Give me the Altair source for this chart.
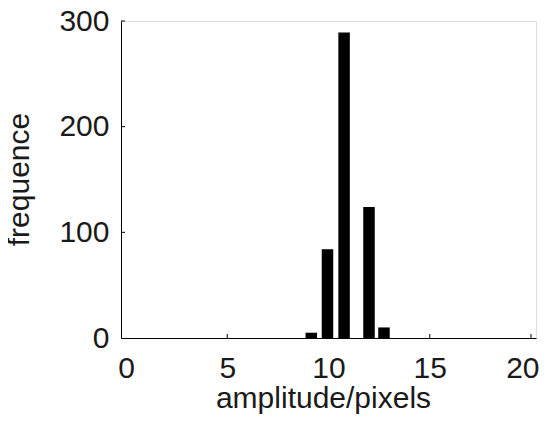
import altair as alt
import pandas as pd

# histogram bars (bin centers) and counts
centers = [9.15, 9.95, 10.77, 12.0, 12.74]
counts = [5, 84, 289, 124, 10]

y_ticks = [100, 200, 300]
x_ticks = [5, 10, 15, 20]

FONT = "Liberation Sans"

bars_df = pd.DataFrame({"amp": centers, "freq": counts})
yt_df = pd.DataFrame({"v": y_ticks})
xt_df = pd.DataFrame({"v": x_ticks})

xscale = alt.Scale(domain=[0, 20], nice=False, zero=False)
yscale = alt.Scale(domain=[0, 300], nice=False)

x_axis = alt.Axis(
    values=[0, 5, 10, 15, 20], ticks=False, grid=False,
    domainColor="black", domainWidth=1,
    labelFont=FONT, labelFontSize=30, labelColor="#1a1a1a", labelPadding=15,
    labelAlign=alt.ConditionalAxisLabelAlign(
        condition={"test": "datum.value == 20", "value": "right"}, value="center"),
    labelOffset=alt.ConditionalAxisNumber(
        condition={"test": "datum.value == 20", "value": 8}, value=0),
    labelFlush=False, labelOverlap=False,
    title="amplitude/pixels", titleFont=FONT, titleFontSize=30, titleFontWeight="normal",
    titleColor="#1a1a1a", titleX=202, titleY=69, titleBaseline="alphabetic", titleAnchor="middle",
)
y_axis = alt.Axis(
    values=[0, 100, 200, 300], ticks=False, grid=False,
    domainColor="black", domainWidth=1,
    labelFont=FONT, labelFontSize=30, labelColor="#1a1a1a", labelPadding=12,
    labelBaseline="middle", labelFlush=False, labelOverlap=False,
    title="frequence", titleFont=FONT, titleFontSize=30, titleFontWeight="normal",
    titleColor="#1a1a1a", titleX=-93, titleY=158, titleAngle=-90, titleBaseline="alphabetic",
    titleAlign="center",
)

bars = alt.Chart(bars_df).mark_bar(color="black", size=11.5).encode(
    x=alt.X("amp:Q", scale=xscale, axis=x_axis),
    y=alt.Y("freq:Q", scale=yscale, axis=y_axis),
)

yt = alt.Chart(yt_df).mark_rule(color="black", strokeWidth=1).encode(
    y=alt.Y("v:Q", scale=yscale),
    x=alt.value(0), x2=alt.value(4),
)
xt = alt.Chart(xt_df).mark_rule(color="black", strokeWidth=1).encode(
    x=alt.X("v:Q", scale=xscale),
    y=alt.value(317), y2=alt.value(313),
)

chart = alt.layer(bars, yt, xt).properties(
    width=415, height=317,
    autosize=alt.AutoSizeParams(type="none"),
    padding={"left": 113, "top": 13, "right": 9, "bottom": 76},
).configure_view(stroke=None).configure(background="white")

chart.save("out.html", embed_options={"renderer": "svg", "actions": False})
